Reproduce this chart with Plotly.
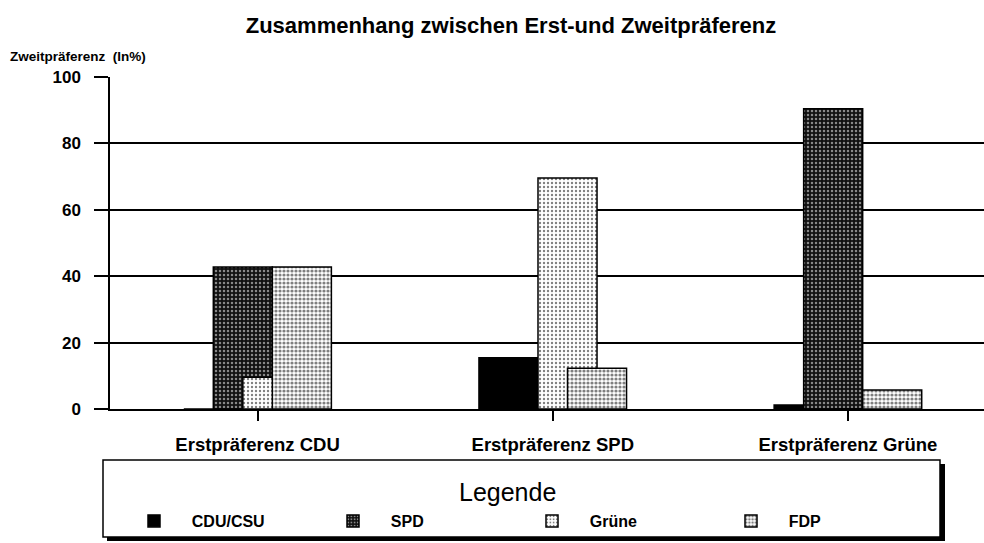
import plotly.graph_objects as go

categories = ["Erstpräferenz CDU", "Erstpräferenz SPD", "Erstpräferenz Grüne"]
parties = ["CDU/CSU", "SPD", "Grüne", "FDP"]
cdu_values = [0, 15.4, 1.2]
spd_values = [42.8, 0, 90.4]
gruene_values = [9.6, 69.6, 0]
fdp_values = [42.8, 12.3, 5.7]
y_ticks = [0, 20, 40, 60, 80, 100]

series = [cdu_values, spd_values, gruene_values, fdp_values]
styles = [
    dict(color="black", pattern=dict(shape="")),
    dict(color="#111111", pattern=dict(shape=".", fgcolor="white", bgcolor="#111111", size=4, solidity=0.3)),
    dict(color="white", pattern=dict(shape=".", fgcolor="black", bgcolor="white", size=4, solidity=0.28)),
    dict(color="white", pattern=dict(shape=".", fgcolor="black", bgcolor="white", size=4, solidity=0.5)),
]
offsets = [-0.25, -0.15, -0.05, 0.05]

FONT = "Liberation Sans, Arial, sans-serif"
PAD = "\u00a0" * 4
fig = go.Figure()
for name, vals, st, off in zip(parties, series, styles, offsets):
    fig.add_trace(go.Bar(
        x=categories, y=vals, name=PAD + name, width=0.2, offset=off,
        marker=dict(color=st["color"], pattern=st["pattern"], line=dict(color="black", width=1.5)),
        hoverinfo="skip",
    ))

L, T, B = 110, 77, 409
W = 874
H = B - T

def px(x):
    return (x - L) / W

def py(y):
    return (B - y) / H

fig.update_layout(
    width=984, height=543,
    margin=dict(l=L, r=0, t=T, b=543 - B, pad=0, autoexpand=False),
    barmode="overlay",
    plot_bgcolor="white", paper_bgcolor="white",
    font=dict(family=FONT, color="black"),
    title=dict(text="<b>Zusammenhang zwischen Erst-und Zweitpräferenz</b>",
               x=511 / 984, y=1 - 25 / 543, xanchor="center", yanchor="middle",
               font=dict(size=22, family=FONT, color="black")),
    xaxis=dict(range=[-0.5, 2.461], showgrid=False, showline=True, linecolor="black", linewidth=1.5,
               ticks="outside", ticklen=10, tickwidth=1.5, tickcolor="black", automargin=False,
               tickfont=dict(size=18.5, family=FONT, weight="bold"), ticklabelstandoff=8, fixedrange=True),
    yaxis=dict(range=[0, 100], tickvals=y_ticks, showgrid=True, gridcolor="black", gridwidth=1.5,
               showline=True, linecolor="black", linewidth=1.5, zeroline=False, automargin=False,
               ticks="outside", ticklen=14, tickwidth=1.5, tickcolor="black",
               tickfont=dict(size=17, family=FONT, weight="bold"), ticklabelstandoff=10, fixedrange=True),
    showlegend=True,
    legend=dict(orientation="h", x=px(134), y=py(521), xanchor="left", yanchor="middle",
                entrywidth=154, entrywidthmode="pixels", bgcolor="rgba(0,0,0,0)",
                font=dict(size=16, family=FONT, weight="bold")),
    shapes=[
        dict(type="rect", xref="paper", yref="paper", x0=px(107), x1=px(945), y0=py(464), y1=py(541),
             fillcolor="black", line=dict(width=0), layer="above"),
        dict(type="rect", xref="paper", yref="paper", x0=px(103), x1=px(940), y0=py(460), y1=py(537),
             fillcolor="white", line=dict(color="black", width=1.5), layer="above"),
    ],
    annotations=[
        dict(text="<b>Zweitpräferenz  (In%)</b>", xref="paper", yref="paper", x=px(8), y=py(57),
             xanchor="left", yanchor="middle", showarrow=False, font=dict(size=13.5, family=FONT)),
        dict(text="Legende", xref="paper", yref="paper", x=px(507), y=py(492),
             xanchor="center", yanchor="middle", showarrow=False, font=dict(size=25, family=FONT)),
    ],
)

fig.write_html("out.html", config={"displayModeBar": False},
               post_script="document.body.style.margin='0px';")
